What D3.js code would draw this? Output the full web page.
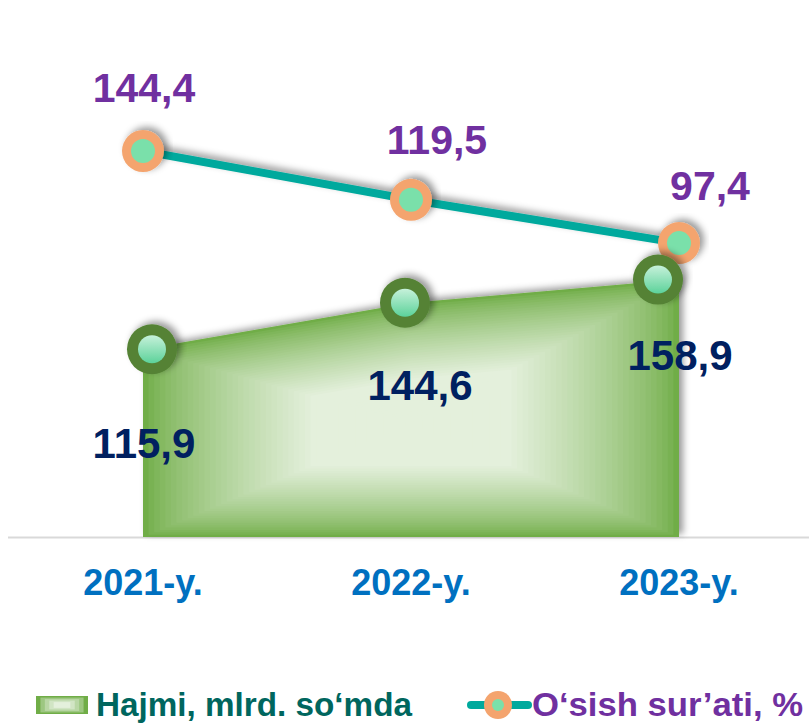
<!DOCTYPE html>
<html>
<head>
<meta charset="utf-8">
<script src="https://cdn.jsdelivr.net/npm/d3@7"></script>
<style>
  html, body { margin: 0; padding: 0; background: #fff; }
  svg { display: block; font-family: Arial, "Liberation Sans", sans-serif; }
</style>
</head>
<body>
<div id="chart"></div>
<script>
  var YEARS = ["2021-y.", "2022-y.", "2023-y."];
  var VOLUME = [115.9, 144.6, 158.9];      // Hajmi, mlrd. so'mda
  var GROWTH = [144.4, 119.5, 97.4];       // O'sish sur'ati, %
  var LEGEND = ["Hajmi, mlrd. so‘mda", "O‘sish sur’ati, %"];

  var W = 809, H = 724;
  var GREEN = "#70ad47", LIGHTGREEN = "#e4f0dc", DARKGREEN = "#548235",
      TEAL = "#00a99d", ORANGE = "#f4a46e", MINT = "#7ae0aa",
      PURPLE = "#7030a0", NAVY = "#002060", BLUE = "#0070c0", LEGTEAL = "#00665e";

  function fmt(v) { return v.toFixed(1).replace(".", ","); }

  var svg = d3.select("#chart").append("svg").attr("width", W).attr("height", H);
  var defs = svg.append("defs");
  var sh = defs.append("filter").attr("id", "shadow")
    .attr("x", "-20%").attr("y", "-20%").attr("width", "140%").attr("height", "140%");
  sh.append("feDropShadow").attr("dx", 4).attr("dy", -3).attr("stdDeviation", 3.5)
    .attr("flood-color", "#000").attr("flood-opacity", 0.4);
  var mg = defs.append("linearGradient").attr("id", "mintGrad")
    .attr("x1", 0).attr("y1", 0).attr("x2", 0).attr("y2", 1);
  mg.append("stop").attr("offset", "0%").attr("stop-color", "#c6f1da");
  mg.append("stop").attr("offset", "100%").attr("stop-color", "#5cd29a");

  // scales: category axis, volume (primary) and growth rate (secondary)
  var x = d3.scalePoint().domain(YEARS).range([143, 679]);
  var xVol = d3.scalePoint().domain(YEARS).range([152, 658]);
  var yVol = d3.scaleLinear().domain([0, 160]).range([537, 277.8]);
  var yRate = d3.scaleLinear().domain([0, 144.4]).range([434, 151]);

  var g = svg.append("g");

  // baseline
  g.append("line").attr("x1", 8).attr("x2", W).attr("y1", yVol(0) + 0.5).attr("y2", yVol(0) + 0.5)
    .attr("stroke", "#d9d9d9").attr("stroke-width", 2);

  // area with shape-following gradient (nested shrunken copies)
  var pts = YEARS.map(function (c, i) { return [x(c), yVol(VOLUME[i])]; });
  var poly = pts.concat([[x(YEARS[YEARS.length - 1]), yVol(0)], [x(YEARS[0]), yVol(0)]]);
  var cx = (x(YEARS[0]) + x(YEARS[YEARS.length - 1])) / 2;
  var cy = (d3.mean(VOLUME.map(yVol)) + yVol(0)) / 2;
  var areaG = g.append("g").attr("filter", "url(#shadow)");
  var STEPS = 48, col = d3.interpolateRgb(GREEN, LIGHTGREEN);
  for (var s = 0; s < STEPS; s++) {
    var t = s / STEPS, k = 1 - t;
    var sp = poly.map(function (p) { return [cx + (p[0] - cx) * k, cy + (p[1] - cy) * k]; });
    (s === 0 ? areaG : g).append("path")
      .attr("d", "M" + sp.join("L") + "Z")
      .attr("fill", col(Math.min(1, Math.pow(t * 1.6, 0.75))));
  }

  // growth line
  var line = d3.line().x(function (d, i) { return x(YEARS[i]); }).y(function (d) { return yRate(d); });
  g.append("path").attr("d", line(GROWTH)).attr("fill", "none")
    .attr("stroke", TEAL).attr("stroke-width", 8).attr("filter", "url(#shadow)");
  GROWTH.forEach(function (v, i) {
    var m = g.append("g").attr("filter", "url(#shadow)");
    m.append("circle").attr("cx", x(YEARS[i])).attr("cy", yRate(v)).attr("r", 21).attr("fill", ORANGE);
    m.append("circle").attr("cx", x(YEARS[i])).attr("cy", yRate(v)).attr("r", 12).attr("fill", MINT);
  });

  // volume markers
  VOLUME.forEach(function (v, i) {
    var m = g.append("g").attr("filter", "url(#shadow)");
    m.append("circle").attr("cx", xVol(YEARS[i])).attr("cy", yVol(v)).attr("r", 25).attr("fill", DARKGREEN);
    m.append("circle").attr("cx", xVol(YEARS[i])).attr("cy", yVol(v)).attr("r", 14).attr("fill", "url(#mintGrad)");
  });

  // data labels (nudges relative to each point, as placed in the original)
  var RATE_NUDGE = [[1, -49], [26, -46], [31, -43]];
  var VOL_NUDGE = [[1, 109], [9, 97], [1, 90]];
  GROWTH.forEach(function (v, i) {
    g.append("text").attr("x", x(YEARS[i]) + RATE_NUDGE[i][0]).attr("y", yRate(v) + RATE_NUDGE[i][1])
      .attr("text-anchor", "middle").attr("fill", PURPLE)
      .style("font-size", "41px").style("font-weight", "bold").text(fmt(v));
  });
  VOLUME.forEach(function (v, i) {
    g.append("text").attr("x", x(YEARS[i]) + VOL_NUDGE[i][0]).attr("y", yVol(v) + VOL_NUDGE[i][1])
      .attr("text-anchor", "middle").attr("fill", NAVY)
      .style("font-size", "42px").style("font-weight", "bold").text(fmt(v));
  });

  // category axis labels
  g.selectAll(".cat").data(YEARS).enter().append("text").attr("class", "cat")
    .attr("x", function (d) { return x(d); }).attr("y", 595)
    .attr("text-anchor", "middle").attr("fill", BLUE)
    .style("font-size", "36px").style("font-weight", "bold").text(function (d) { return d; });

  // legend
  var lg = svg.append("g");
  var lr = { x: 36, y: 696, w: 52, h: 18 };
  [0, 1, 2, 3, 4].forEach(function (j) {
    var t = j / 5, e = Math.min(1, Math.pow(t * 1.3, 0.7));
    lg.append("rect").attr("x", lr.x + lr.w / 2 * t * 0.85).attr("y", lr.y + lr.h / 2 * t * 0.85)
      .attr("width", lr.w * (1 - t * 0.85)).attr("height", lr.h * (1 - t * 0.85))
      .attr("fill", col(e));
  });
  lg.append("text").attr("x", 96).attr("y", 716).attr("fill", LEGTEAL)
    .attr("textLength", 316).attr("lengthAdjust", "spacingAndGlyphs")
    .style("font-size", "33px").style("font-weight", "bold").text(LEGEND[0]);
  lg.append("line").attr("x1", 471).attr("x2", 528).attr("y1", 705).attr("y2", 705)
    .attr("stroke", TEAL).attr("stroke-width", 8).attr("stroke-linecap", "round");
  lg.append("circle").attr("cx", 498).attr("cy", 705).attr("r", 14).attr("fill", ORANGE);
  lg.append("circle").attr("cx", 498).attr("cy", 705).attr("r", 6).attr("fill", MINT);
  lg.append("text").attr("x", 532).attr("y", 716).attr("fill", PURPLE)
    .attr("textLength", 271).attr("lengthAdjust", "spacingAndGlyphs")
    .style("font-size", "33px").style("font-weight", "bold").text(LEGEND[1]);
</script>
</body>
</html>
